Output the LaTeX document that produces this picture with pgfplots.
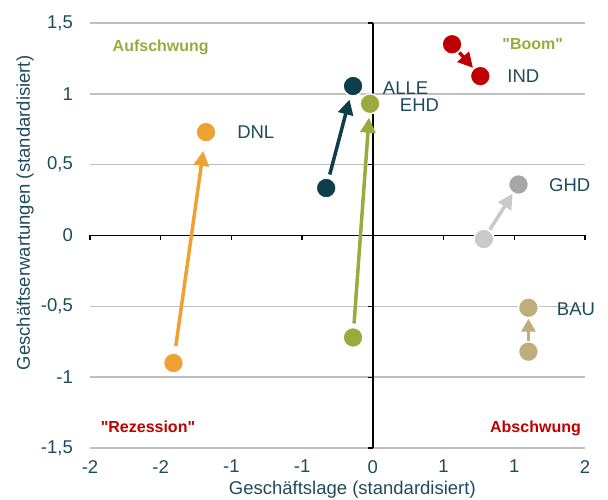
\documentclass[border=0pt]{standalone}
\usepackage{fontspec}
\setmainfont{Liberation Sans}[Ligatures=TeXOff]
\usepackage{pgfplots}
\pgfplotsset{compat=1.18}
\usetikzlibrary{arrows.meta}
\definecolor{txt}{HTML}{1E4B5C}
\definecolor{gridgray}{HTML}{BFBFBF}
\definecolor{cALLE}{HTML}{0E3D4C}
\definecolor{cEHD}{HTML}{9BAA3C}
\definecolor{cDNL}{HTML}{EFA232}
\definecolor{cIND}{HTML}{C00000}
\definecolor{cGHDa}{HTML}{C9C9C9}
\definecolor{cGHDb}{HTML}{A6A6A6}
\definecolor{cBAU}{HTML}{BFAD7B}
\newcommand{\lbl}{\fontsize{18.5}{22}\selectfont}
\newcommand{\qlbl}{\fontsize{16}{19}\selectfont\bfseries}
\begin{document}
\begin{tikzpicture}
\useasboundingbox (-90pt,-52pt) rectangle (518pt,448pt);
\begin{axis}[at={(0,0)}, anchor=south west, scale only axis,
  width=495pt, height=425pt,
  xmin=-2, xmax=1.5, ymin=-1.5, ymax=1.5,
  xtick={-2,-1.5,-1,-0.5,0,0.5,1,1.5},
  xticklabels={-2,-2,-1,-1,0,1,1,2},
  ytick={-1.5,-1,-0.5,0,0.5,1,1.5},
  yticklabels={{-1,5},-1,{-0,5},0,{0,5},1,{1,5}},
  axis line style={draw=none}, major tick length=0pt, tick style={draw=none},
  ymajorgrids, grid style={color=gridgray, line width=1.5pt},
  ticklabel style={font=\lbl, text=txt},
  xticklabel style={anchor=north, inner sep=0pt, yshift=-12pt},
  yticklabel style={anchor=east, inner sep=0pt, xshift=-17pt},
  xlabel={Geschäftslage (standardisiert)},
  ylabel={Geschäftserwartungen (standardisiert)},
  every axis x label/.style={at={([yshift=-47pt]rel axis cs:0.53,0)}, anchor=base, font=\lbl, text=txt, inner sep=0pt},
  every axis y label/.style={at={([xshift=-65pt]rel axis cs:0,0.553)}, rotate=90, anchor=center, font=\lbl, text=txt, inner sep=0pt},
  clip=false,
]
% axis lines
\draw[black, line width=1.5pt] (axis cs:-2,0) -- (axis cs:1.5,0);
\draw[black, line width=1.5pt] (axis cs:0,-1.5) -- (axis cs:0,1.5);
\draw[black, line width=1.3pt] (axis cs:-2,0) -- ++(0pt,-5pt);
\draw[black, line width=1.3pt] (axis cs:-1.5,0) -- ++(0pt,-5pt);
\draw[black, line width=1.3pt] (axis cs:-1,0) -- ++(0pt,-5pt);
\draw[black, line width=1.3pt] (axis cs:-0.5,0) -- ++(0pt,-5pt);
\draw[black, line width=1.3pt] (axis cs:0.5,0) -- ++(0pt,-5pt);
\draw[black, line width=1.3pt] (axis cs:1,0) -- ++(0pt,-5pt);
\draw[black, line width=1.3pt] (axis cs:1.5,0) -- ++(0pt,-5pt);
\draw[black, line width=1.3pt] (axis cs:0,-1.5) -- ++(-5pt,0pt);
\draw[black, line width=1.3pt] (axis cs:0,-1) -- ++(-5pt,0pt);
\draw[black, line width=1.3pt] (axis cs:0,-0.5) -- ++(-5pt,0pt);
\draw[black, line width=1.3pt] (axis cs:0,0.5) -- ++(-5pt,0pt);
\draw[black, line width=1.3pt] (axis cs:0,1) -- ++(-5pt,0pt);
\draw[black, line width=1.3pt] (axis cs:0,1.5) -- ++(-5pt,0pt);
% arrows
\addplot[draw=cALLE, line width=3.5pt, -{Triangle[length=15pt,width=15pt]}, shorten >=14pt, shorten <=14pt] coordinates {(-0.33,0.335) (-0.14,1.055)};
\addplot[draw=cEHD, line width=3.5pt, -{Triangle[length=15pt,width=15pt]}, shorten >=14pt, shorten <=14pt] coordinates {(-0.14,-0.72) (-0.02,0.93)};
\addplot[draw=cDNL, line width=3.5pt, -{Triangle[length=15pt,width=15pt]}, shorten >=19pt, shorten <=17pt] coordinates {(-1.41,-0.90) (-1.18,0.73)};
\addplot[draw=cIND, line width=3.5pt, -{Triangle[length=15pt,width=15pt]}, shorten >=11pt, shorten <=11pt] coordinates {(0.56,1.35) (0.76,1.125)};
\addplot[draw=cGHDa, line width=3.5pt, -{Triangle[length=15pt,width=15pt]}, shorten >=11pt, shorten <=11pt] coordinates {(0.785,-0.025) (1.03,0.36)};
\addplot[draw=cBAU, line width=3.5pt, -{Triangle[length=13pt,width=14pt]}, shorten >=11pt, shorten <=10pt] coordinates {(1.10,-0.82) (1.10,-0.51)};
% markers
\addplot[only marks, mark=*, mark size=10pt, mark options={fill=cALLE, draw=white, line width=1.5pt}] coordinates {(-0.33,0.335) (-0.14,1.055)};
\addplot[only marks, mark=*, mark size=10pt, mark options={fill=cEHD, draw=white, line width=1.5pt}] coordinates {(-0.14,-0.72) (-0.02,0.93)};
\addplot[only marks, mark=*, mark size=10pt, mark options={fill=cDNL, draw=white, line width=1.5pt}] coordinates {(-1.41,-0.90) (-1.18,0.73)};
\addplot[only marks, mark=*, mark size=10pt, mark options={fill=cIND, draw=white, line width=1.5pt}] coordinates {(0.56,1.35) (0.76,1.125)};
\addplot[only marks, mark=*, mark size=10pt, mark options={fill=cGHDa, draw=white, line width=1.5pt}] coordinates {(0.785,-0.025)};
\addplot[only marks, mark=*, mark size=10pt, mark options={fill=cGHDb, draw=white, line width=1.5pt}] coordinates {(1.03,0.36)};
\addplot[only marks, mark=*, mark size=10pt, mark options={fill=cBAU, draw=white, line width=1.5pt}] coordinates {(1.10,-0.82) (1.10,-0.51)};
% series labels
\node[anchor=west, inner sep=0pt, text=txt, font=\lbl] at (axis cs:0.07,1.04) {ALLE};
\node[anchor=west, inner sep=0pt, text=txt, font=\lbl] at (axis cs:0.19,0.92) {EHD};
\node[anchor=west, inner sep=0pt, text=txt, font=\lbl] at (axis cs:-0.96,0.73) {DNL};
\node[anchor=west, inner sep=0pt, text=txt, font=\lbl] at (axis cs:0.95,1.125) {IND};
\node[anchor=west, inner sep=0pt, text=txt, font=\lbl] at (axis cs:1.245,0.355) {GHD};
\node[anchor=west, inner sep=0pt, text=txt, font=\lbl] at (axis cs:1.30,-0.52) {BAU};
% quadrant labels
\node[text=cEHD, font=\qlbl] at (axis cs:-1.50,1.33) {Aufschwung};
\node[text=cEHD, font=\qlbl] at (axis cs:1.13,1.35) {"Boom"};
\node[text=cIND, font=\qlbl] at (axis cs:-1.59,-1.35) {"Rezession"};
\node[text=cIND, font=\qlbl] at (axis cs:1.15,-1.36) {Abschwung};
\end{axis}
\end{tikzpicture}
\end{document}
